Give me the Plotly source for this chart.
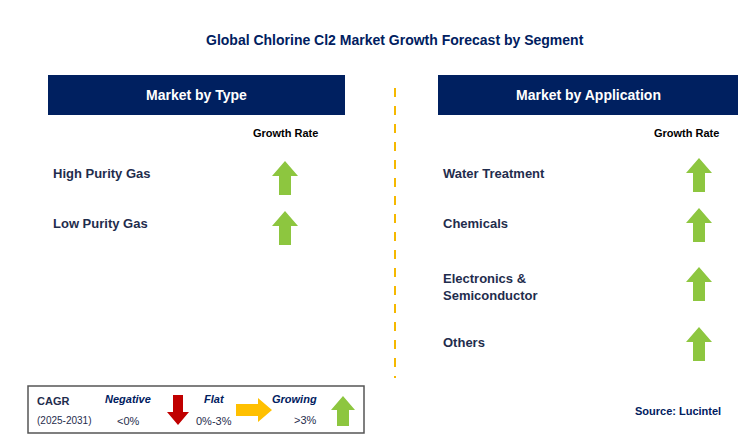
import plotly.graph_objects as go

title = "Global Chlorine Cl2 Market Growth Forecast by Segment"
type_items = ["High Purity Gas", "Low Purity Gas"]
type_y = [173, 223]
app_items = ["Water Treatment", "Chemicals", "Electronics &<br>Semiconductor", "Others"]
app_y = [173, 223, 287, 342]
app_arrow_y = [173, 223, 282, 342]

NAVY = "#002060"
GREEN = "#8dc63f"
TXT = "#1f2d4d"

fig = go.Figure()
shapes = []
ann = []


def arrow(cx, cy, color, h=34, hw=13, bw=6, hh=15, up=True):
    top, bot = cy - h / 2, cy + h / 2
    if up:
        p = (f"M{cx},{top} L{cx+hw},{top+hh} L{cx+bw},{top+hh} L{cx+bw},{bot} "
             f"L{cx-bw},{bot} L{cx-bw},{top+hh} L{cx-hw},{top+hh} Z")
    else:
        p = (f"M{cx},{bot} L{cx+hw},{bot-hh} L{cx+bw},{bot-hh} L{cx+bw},{top} "
             f"L{cx-bw},{top} L{cx-bw},{bot-hh} L{cx-hw},{bot-hh} Z")
    return dict(type="path", path=p, fillcolor=color, line=dict(width=0), xref="x", yref="y")


def right_arrow(cx, cy, color, w=36, hh=12, bh=6, hl=14):
    l, r = cx - w / 2, cx + w / 2
    p = (f"M{r},{cy} L{r-hl},{cy-hh} L{r-hl},{cy-bh} L{l},{cy-bh} L{l},{cy+bh} "
         f"L{r-hl},{cy+bh} L{r-hl},{cy+hh} Z")
    return dict(type="path", path=p, fillcolor=color, line=dict(width=0), xref="x", yref="y")


def text(x, y, s, size=13, color=TXT, bold=True, anchor="left", italic=False):
    if italic:
        s = f"<i>{s}</i>"
    if bold:
        s = f"<b>{s}</b>"
    ann.append(dict(x=x, y=y, text=s, showarrow=False, xanchor=anchor, yanchor="middle",
                    align=anchor if anchor != "center" else "center",
                    xref="x", yref="y", font=dict(size=size, color=color, family="Arial")))


text(395, 40, title, size=14, color=NAVY, anchor="center")

# header boxes
for x0, x1, lab in [(48, 345, "Market by Type"), (438, 738, "Market by Application")]:
    shapes.append(dict(type="rect", x0=x0, x1=x1, y0=75, y1=115, fillcolor=NAVY,
                       line=dict(width=0), xref="x", yref="y"))
    text((x0 + x1) / 2, 95, lab, size=14, color="white", anchor="center")

shapes.append(dict(type="line", x0=395, x1=395, y0=88, y1=378, xref="x", yref="y",
                   line=dict(color="#f5b800", width=2, dash="dash")))

text(285, 133, "Growth Rate", size=11, color="black", anchor="center")
text(686, 133, "Growth Rate", size=11, color="black", anchor="center")

for s, y in zip(type_items, type_y):
    text(51, y, s)
    shapes.append(arrow(285, y + 5, GREEN))
for s, y, ay in zip(app_items, app_y, app_arrow_y):
    text(441, y, s)
    shapes.append(arrow(699, ay + 2, GREEN))

# legend box
shapes.append(dict(type="rect", x0=28, x1=364, y0=386, y1=433, line=dict(color="#555", width=1.5),
                   fillcolor="white", xref="x", yref="y"))
text(35, 401, "CAGR", size=11, color=TXT)
text(35, 420, "(2025-2031)", size=10, color=TXT, bold=False)
text(128, 399, "Negative", size=11, color=NAVY, anchor="center", italic=True)
text(128, 421, "&lt;0%", size=11, color=TXT, bold=False, anchor="center")
shapes.append(arrow(178, 410, "#c00000", h=30, hw=11, bw=5, hh=13, up=False))
text(214, 399, "Flat", size=11, color=NAVY, anchor="center", italic=True)
text(214, 421, "0%-3%", size=11, color=TXT, bold=False, anchor="center")
shapes.append(right_arrow(254, 410, "#ffc000"))
text(294, 399, "Growing", size=11, color=NAVY, anchor="center", italic=True)
text(305, 420, "&gt;3%", size=11, color=TXT, bold=False, anchor="center")
shapes.append(arrow(343, 411, GREEN, h=30, hw=12, bw=6, hh=14))

text(723, 411, "Source: Lucintel", size=11, color=NAVY, anchor="right")

# page body adds an 8px offset, so shift the visible window to compensate
fig.update_layout(width=750, height=447, margin=dict(l=0, r=0, t=0, b=0),
                  plot_bgcolor="white", paper_bgcolor="white", showlegend=False,
                  shapes=shapes, annotations=ann,
                  xaxis=dict(range=[8, 758], visible=False, fixedrange=True),
                  yaxis=dict(range=[455, 8], visible=False, fixedrange=True))
fig.write_html("out.html")
